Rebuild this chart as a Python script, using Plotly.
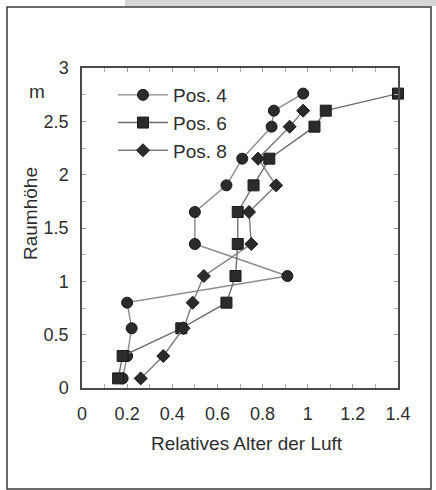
import plotly.graph_objects as go

# Room height (m) at the measuring levels
heights_4 = [0.09, 0.30, 0.56, 0.80, 1.05, 1.35, 1.65, 1.90, 2.15, 2.45, 2.60, 2.76]
age_4 = [0.18, 0.20, 0.22, 0.20, 0.91, 0.50, 0.50, 0.64, 0.71, 0.84, 0.85, 0.98]

heights_6 = [0.09, 0.30, 0.56, 0.80, 1.05, 1.35, 1.65, 1.90, 2.15, 2.45, 2.60, 2.76]
age_6 = [0.16, 0.18, 0.44, 0.64, 0.68, 0.69, 0.69, 0.76, 0.83, 1.03, 1.08, 1.40]

heights_8 = [0.09, 0.30, 0.56, 0.80, 1.05, 1.35, 1.65, 1.90, 2.15, 2.45, 2.60]
age_8 = [0.26, 0.36, 0.45, 0.49, 0.54, 0.75, 0.74, 0.86, 0.78, 0.92, 0.98]

x_ticks = [0, 0.2, 0.4, 0.6, 0.8, 1, 1.2, 1.4]
x_tick_text = ["0", "0.2", "0.4", "0.6", "0.8", "1", "1.2", "1.4"]
y_ticks = [0, 0.5, 1, 1.5, 2, 2.5, 3]
y_tick_text = ["0", "0.5", "1", "1.5", "2", "2.5", "3"]

FONT = "Liberation Sans, Arial, sans-serif"
TEXT = "#2e2e2e"
W, H = 436, 490
L, R, T, B = 82, 38, 68, 102

fig = go.Figure()

series = [
    ("Pos. 4", age_4, heights_4, "circle", 11, "#8a8a8a"),
    ("Pos. 6", age_6, heights_6, "square", 11, "#6e6e6e"),
    ("Pos. 8", age_8, heights_8, "diamond", 10, "#7c7c7c"),
]
for i, (name, xs, ys, sym, size, lc) in enumerate(series):
    fig.add_trace(go.Scatter(
        x=xs, y=ys, name=name, mode="lines+markers",
        legendgroup=f"g{i}", cliponaxis=False,
        line=dict(color=lc, width=1.4),
        marker=dict(symbol=sym, size=size, color="#2b2b2b",
                    line=dict(color="#1a1a1a", width=1)),
    ))

axis_common = dict(
    showgrid=False, zeroline=False, showline=True, mirror="ticks",
    linecolor="#4a4a4a", linewidth=1.5,
    ticks="inside", ticklen=4, tickcolor="#9a9a9a", tickwidth=1,
    tickfont=dict(family=FONT, size=18, color=TEXT),
)

fig.update_xaxes(
    range=[0, 1.4], tickvals=x_ticks, ticktext=x_tick_text,
    ticklabelstandoff=9,
    minor=dict(dtick=0.1, ticks="inside", ticklen=4, tickcolor="#b0b0b0"),
    **axis_common,
)
fig.update_yaxes(
    range=[0, 3], tickvals=y_ticks, ticktext=y_tick_text,
    ticklabelstandoff=8,
    minor=dict(dtick=0.25, ticks="inside", ticklen=4, tickcolor="#b0b0b0"),
    **axis_common,
)

def px_x(px):
    return (px - L) / (W - L - R)

def px_y(py):
    return (H - B - py) / (H - T - B)

annotations = [
    dict(text="Relatives Alter der Luft", x=px_x(247), y=px_y(443),
         xref="paper", yref="paper", showarrow=False,
         font=dict(family=FONT, size=19, color=TEXT),
         xanchor="center", yanchor="middle"),
    dict(text="Raumhöhe", x=px_x(30), y=px_y(214), textangle=-90,
         xref="paper", yref="paper", showarrow=False,
         font=dict(family=FONT, size=19, color=TEXT),
         xanchor="center", yanchor="middle"),
    dict(text="m", x=px_x(37), y=px_y(92),
         xref="paper", yref="paper", showarrow=False,
         font=dict(family=FONT, size=19, color=TEXT),
         xanchor="center", yanchor="middle"),
]

shapes = [
    # scanned page edge above the frame
    dict(type="rect", xref="paper", yref="paper",
         x0=px_x(125), x1=px_x(436), y0=px_y(0), y1=px_y(6),
         fillcolor="#d6d6d6", line=dict(width=0), layer="below"),
    # outer frame around the figure
    dict(type="rect", xref="paper", yref="paper",
         x0=px_x(7), x1=px_x(431), y0=px_y(489), y1=px_y(7),
         line=dict(color="#3a3a3a", width=1.5), fillcolor="rgba(0,0,0,0)"),
]

fig.update_layout(
    width=W, height=H,
    margin=dict(l=L, r=R, t=T, b=B),
    paper_bgcolor="white", plot_bgcolor="white",
    font=dict(family=FONT, size=19, color=TEXT),
    showlegend=True,
    legend=dict(
        x=px_x(113), y=px_y(76), xanchor="left", yanchor="top",
        bgcolor="rgba(0,0,0,0)", borderwidth=0,
        font=dict(family=FONT, size=19, color=TEXT),
        traceorder="grouped", tracegroupgap=0, itemwidth=50,
    ),
    annotations=annotations,
    shapes=shapes,
)

fig.write_html("out.html")
